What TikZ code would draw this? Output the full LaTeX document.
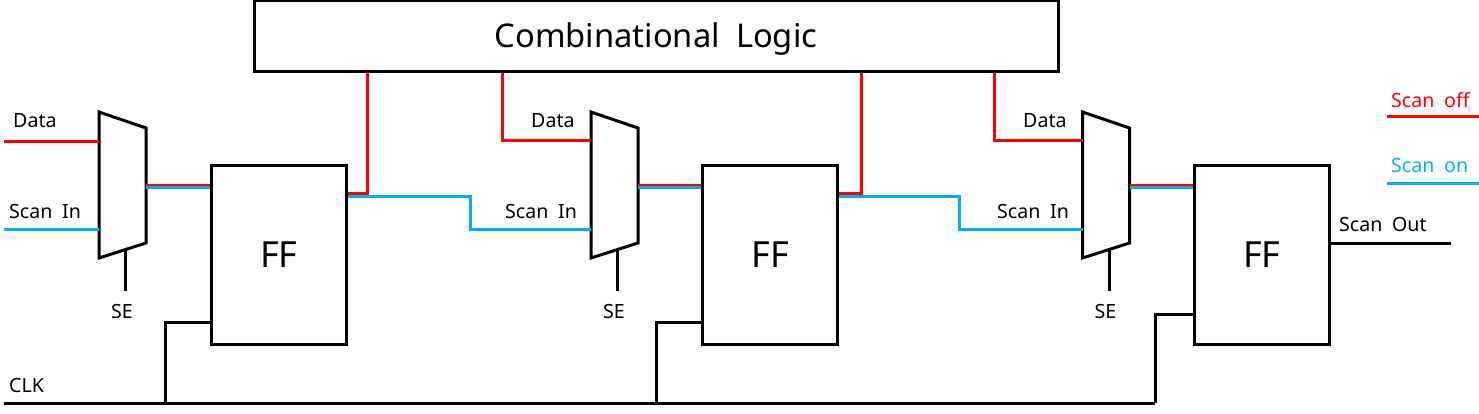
\documentclass[tikz,border=0pt]{standalone}
\usepackage{fontspec}
\setmainfont{Noto Sans}[WordSpace=1.9]
\usetikzlibrary{calc}
\definecolor{scanred}{RGB}{255,0,0}
\definecolor{scanblue}{RGB}{0,176,240}
\tikzset{
  box/.style={draw=black,line width=3pt,fill=white,inner sep=0pt},
  muxbox/.style={inner sep=0pt,outer sep=0pt,minimum width=47pt,minimum height=146pt},
  muxshape/.style={draw=black,line width=3pt,line join=miter},
  wire/.style={draw=black,line width=3pt},
  redwire/.style={draw=scanred,line width=3pt},
  bluewire/.style={draw=scanblue,line width=3pt},
  lbl/.style={inner sep=0pt,font=\fontsize{19.6}{22}\selectfont,anchor=base west},
}
\begin{document}
\begin{tikzpicture}[x=1pt,y=-1pt]
\useasboundingbox (0,0) rectangle (1479,414);
\node[box,minimum width=804pt,minimum height=71pt,font=\fontsize{32.7}{38}\selectfont] (logic) at (656,36.5) {\raisebox{-11.5pt}[0pt][0pt]{Combinational Logic}};
\coordinate (clka) at (4,403);
\coordinate (clkb) at (1155,403);
\draw[wire] (clka) -- (clkb);
\foreach \i/\m/\f/\se/\ck/\cky in {1/122.5/278.75/125.5/165/322,2/614.5/770/617.5/656/322,3/1106/1261.75/1109/1155/314}{
  \node[muxbox] (mux\i) at (\m,185) {};
  \draw[muxshape] (mux\i.north west) -- ($(mux\i.north east)+(0,16)$) -- ($(mux\i.south east)+(0,-15)$) -- (mux\i.south west) -- cycle;
  \node[box,minimum width=135.5pt,minimum height=178pt,font=\fontsize{36}{42}\selectfont] (ff\i) at (\f,255) {FF};
  \coordinate (se\i) at (\se,291);
  \draw[wire] (se\i) -- ($(se\i |- mux\i.south)+(0,-8)$);
  \node[inner sep=0pt,font=\fontsize{19.6}{22}\selectfont,anchor=base] (selbl\i) at (\m-0.5,318) {SE};
  \draw[scanred,line width=2.5pt] (mux\i.east) -- (mux\i.east -| ff\i.west);
  \draw[bluewire] ([yshift=-2.5pt]mux\i.east) -- ([yshift=-2.5pt]mux\i.east -| ff\i.west);
  \coordinate (ck\i) at (\ck,\cky);
  \draw[wire] (ck\i -| ff\i.west) -- (ck\i) -- (ck\i |- clka);
}
% first stage inputs
\coordinate (din) at (4,142);
\coordinate (sin) at (4,229);
\draw[redwire] (din) -- (din -| mux1.west);
\draw[bluewire] (sin) -- (sin -| mux1.west);
% stage links
\coordinate (r1) at (367.5,193);
\draw[redwire] (r1 -| ff1.east) -- (r1) -- (r1 |- logic.south);
\coordinate (r2) at (502.5,140.5);
\draw[redwire] (r2 |- logic.south) -- (r2) -- (r2 -| mux2.west);
\coordinate (b1) at (470,196);
\coordinate (b2) at (470,229);
\draw[bluewire] (b1 -| ff1.east) -- (b1) -- (b2) -- (b2 -| mux2.west);
\coordinate (r3) at (861,193);
\draw[redwire] (r3 -| ff2.east) -- (r3) -- (r3 |- logic.south);
\coordinate (r4) at (994.5,141);
\draw[redwire] (r4 |- logic.south) -- (r4) -- (r4 -| mux3.west);
\coordinate (b3) at (959,196);
\coordinate (b4) at (959,229);
\draw[bluewire] (b3 -| ff2.east) -- (b3) -- (b4) -- (b4 -| mux3.west);
% output
\coordinate (so) at (1451,243);
\draw[wire] (so -| ff3.east) -- (so);
% legend
\coordinate (la) at (1387,117);
\coordinate (lb) at (1479,117);
\draw[redwire] (la) -- (lb);
\coordinate (lc) at (1387,184);
\coordinate (ld) at (1479,184);
\draw[bluewire] (lc) -- (ld);
% labels
\node[lbl] (t1) at (13,128) {Data};
\node[lbl] (t2) at (9,218) {Scan In};
\node[lbl] (t3) at (9,392) {CLK};
\node[lbl] (t4) at (531,128) {Data};
\node[lbl] (t5) at (505,218) {Scan In};
\node[lbl] (t6) at (1023,128) {Data};
\node[lbl] (t7) at (997,218) {Scan In};
\node[lbl] (t8) at (1339,231) {Scan Out};
\node[lbl,text=scanred] (t9) at (1391,108) {Scan off};
\node[lbl,text=scanblue] (t10) at (1391,173) {Scan on};
\end{tikzpicture}
\end{document}
